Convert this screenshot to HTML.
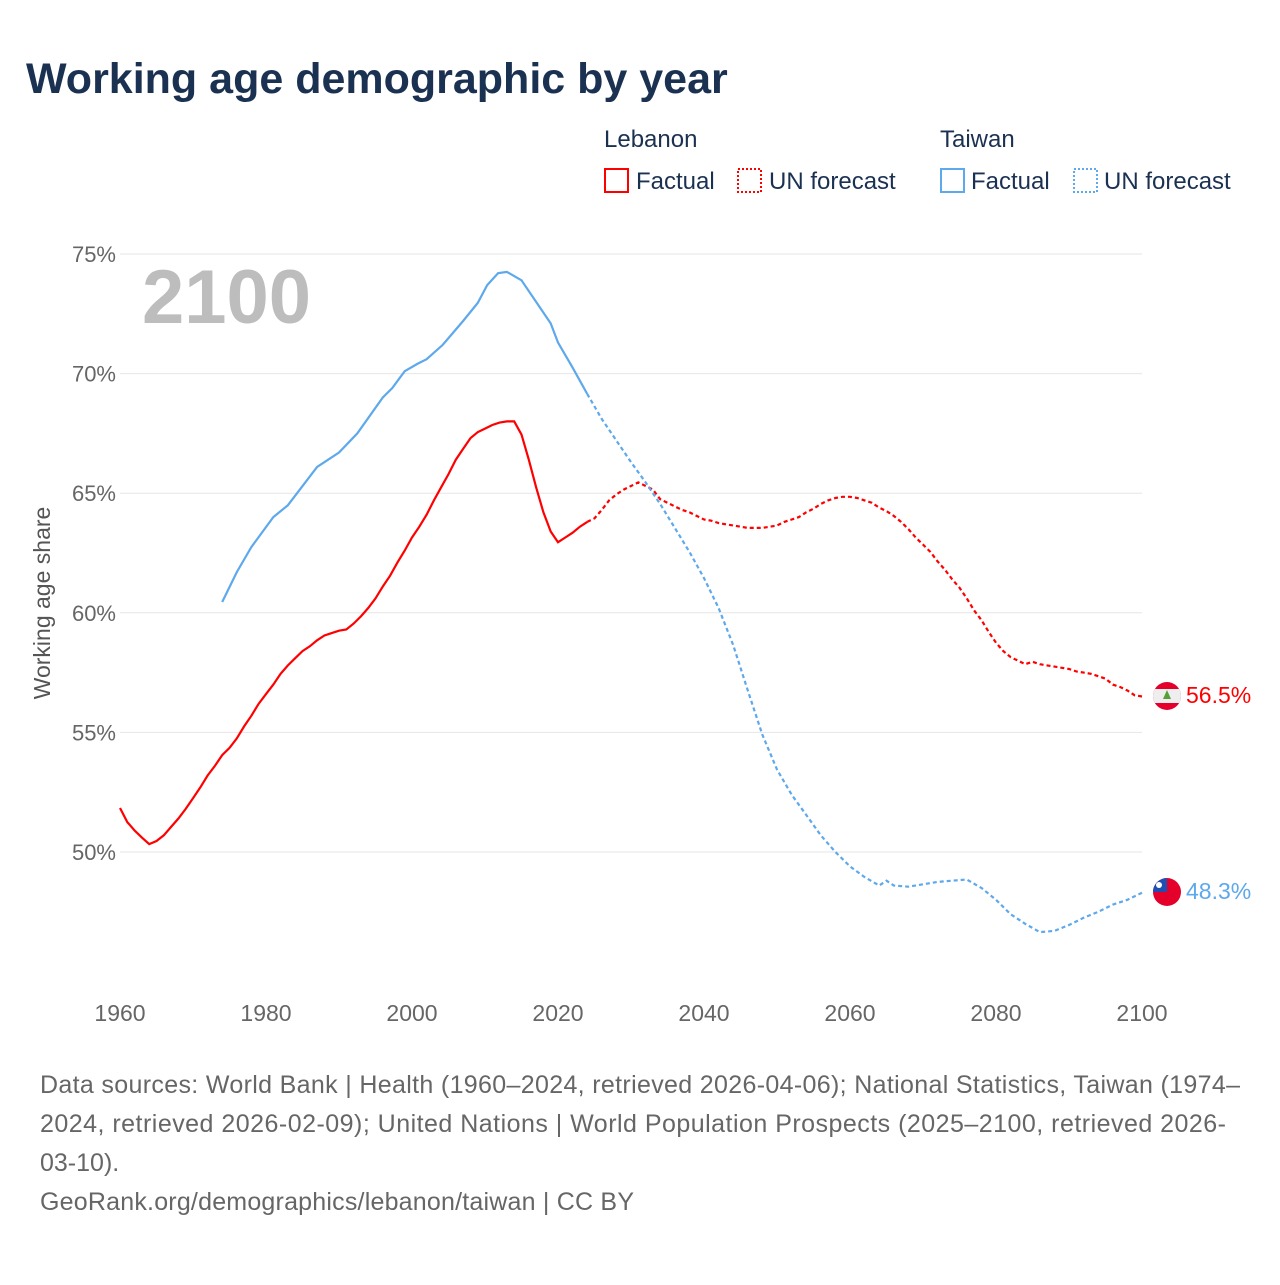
<!DOCTYPE html>
<html><head><meta charset="utf-8"><style>
body{margin:0;background:#fff;font-family:"Liberation Sans",sans-serif;}
svg text{font-family:"Liberation Sans",sans-serif;}
</style></head><body>
<svg id="chart" width="1280" height="1280" xmlns="http://www.w3.org/2000/svg">
<text x="26" y="93" font-size="43" font-weight="bold" fill="#1b3152">Working age demographic by year</text>
<g font-size="24" fill="#1b3152">
<text x="604" y="147" fill="#1b3152">Lebanon</text>
<text x="940" y="147" fill="#1b3152">Taiwan</text>
<g><rect x="605" y="169" width="23" height="23" fill="none" stroke="#f00" stroke-width="2"/><text x="636" y="189" fill="#1b3152">Factual</text></g>
<g><rect x="738" y="169" width="23" height="23" fill="none" stroke="#f00" stroke-width="2" stroke-dasharray="2,2"/><text x="769" y="189" fill="#1b3152">UN forecast</text></g>
<g><rect x="941" y="169" width="23" height="23" fill="none" stroke="#5ea8ec" stroke-width="2"/><text x="971" y="189" fill="#1b3152">Factual</text></g>
<g><rect x="1074" y="169" width="23" height="23" fill="none" stroke="#5ea8ec" stroke-width="2" stroke-dasharray="2,2"/><text x="1104" y="189" fill="#1b3152">UN forecast</text></g>
</g>
<text x="142" y="323" font-size="76" font-weight="bold" fill="#bdbdbd">2100</text>
<text transform="translate(50,603) rotate(-90)" text-anchor="middle" font-size="23" fill="#555">Working age share</text>
<g id="grid"></g><g id="series"></g>
<g>
<g><clipPath id="c1"><circle cx="1167" cy="696" r="14"/></clipPath><g clip-path="url(#c1)"><rect x="1150" y="680" width="34" height="34" fill="#e4002b"/><rect x="1150" y="689" width="34" height="14" fill="#eee"/><polygon points="1167,690 1163,699 1171,699" fill="#5a9e3a"/></g></g>
<text x="1186" y="703" font-size="23" fill="#f00">56.5%</text>
<g><clipPath id="c2"><circle cx="1167" cy="892" r="14"/></clipPath><g clip-path="url(#c2)"><rect x="1150" y="876" width="34" height="34" fill="#e4002b"/><rect x="1150" y="876" width="17" height="16" fill="#1f4fb0"/><circle cx="1159" cy="885" r="3" fill="#fff"/></g></g>
<text x="1186" y="899" font-size="23" fill="#5ea8ec">48.3%</text>
</g>
<g font-size="25" fill="#666">
<text x="40" y="1093" textLength="1200">Data sources: World Bank | Health (1960–2024, retrieved 2026-04-06); National Statistics, Taiwan (1974–</text>
<text x="40" y="1132" textLength="1186">2024, retrieved 2026-02-09); United Nations | World Population Prospects (2025–2100, retrieved 2026-</text>
<text x="40" y="1171">03-10).</text>
<text x="40" y="1210" textLength="594">GeoRank.org/demographics/lebanon/taiwan | CC BY</text>
</g>
</svg>
<script>
const xTicks=[1960,1980,2000,2020,2040,2060,2080,2100];
const yTicks=[50,55,60,65,70,75];
const lbFactYears=[];for(let y=1960;y<=2024;y++)lbFactYears.push(y);
const lbFact=[51.84,51.25,50.9,50.6,50.33,50.46,50.7,51.05,51.4,51.8,52.25,52.7,53.2,53.6,54.05,54.35,54.75,55.25,55.7,56.2,56.6,57.0,57.45,57.8,58.1,58.4,58.6,58.85,59.05,59.15,59.25,59.3,59.55,59.85,60.2,60.6,61.1,61.55,62.1,62.6,63.15,63.6,64.1,64.7,65.25,65.8,66.4,66.85,67.3,67.55,67.7,67.85,67.95,68.0,68.0,67.45,66.4,65.25,64.2,63.4,62.95,63.15,63.35,63.6,63.8];
const lbFcYears=[];for(let y=2024;y<=2100;y++)lbFcYears.push(y);
const lbFc=[63.8,63.95,64.3,64.7,64.95,65.15,65.3,65.45,65.3,65.15,64.75,64.6,64.45,64.3,64.2,64.05,63.9,63.85,63.75,63.7,63.65,63.6,63.55,63.55,63.55,63.6,63.65,63.8,63.9,64.0,64.2,64.35,64.55,64.7,64.8,64.85,64.85,64.8,64.7,64.6,64.4,64.25,64.05,63.8,63.5,63.15,62.85,62.55,62.15,61.8,61.4,61.05,60.6,60.1,59.7,59.2,58.75,58.4,58.15,58.0,57.85,57.95,57.85,57.8,57.75,57.7,57.65,57.55,57.5,57.45,57.35,57.25,57.0,56.9,56.75,56.55,56.5];
const twFactYears=[1974,1976,1978,1981,1983,1987,1990,1992.5,1996,1997.3,1999,2000.7,2002,2004.2,2007,2009,2010.3,2011.8,2013,2015,2019,2020,2022,2024];
const twFact=[60.45,61.7,62.75,64.0,64.5,66.1,66.7,67.5,69.0,69.4,70.1,70.4,70.6,71.2,72.2,72.95,73.7,74.2,74.25,73.9,72.1,71.3,70.25,69.15];
const twFcYears=[2024,2026,2028,2030,2032,2034,2036,2038,2040,2042,2044,2046,2048,2050,2052,2054,2056,2058,2060,2062,2064,2065,2066,2068,2070,2072,2074,2076,2078,2080,2082,2084,2086,2088,2090,2092,2094,2096,2098,2100];
const twFc=[69.15,68.1,67.2,66.3,65.45,64.55,63.55,62.55,61.45,60.2,58.65,56.75,54.9,53.45,52.4,51.55,50.7,50.0,49.4,48.95,48.6,48.8,48.6,48.55,48.65,48.75,48.8,48.85,48.5,48.0,47.4,47.0,46.65,46.7,46.95,47.25,47.5,47.8,48.0,48.3];
const X=y=>120+(y-1960)*1022/140;
const Y=v=>852-(v-50)*23.92;
const NS="http://www.w3.org/2000/svg";
const grid=document.getElementById('grid'),ser=document.getElementById('series');
yTicks.forEach(v=>{
 const l=document.createElementNS(NS,'line');
 l.setAttribute('x1',120);l.setAttribute('x2',1142);l.setAttribute('y1',Y(v));l.setAttribute('y2',Y(v));
 l.setAttribute('stroke','#e6e6e6');
 
 
 grid.appendChild(l);
 const t=document.createElementNS(NS,'text');
 t.setAttribute('x',116);t.setAttribute('y',Y(v)+8);t.setAttribute('text-anchor','end');
 t.setAttribute('font-size','22');t.setAttribute('fill','#666');t.textContent=v+'%';
 
 
 grid.appendChild(t);
});
xTicks.forEach(y=>{
 const t=document.createElementNS(NS,'text');
 t.setAttribute('x',X(y));t.setAttribute('y',1021);t.setAttribute('text-anchor','middle');
 t.setAttribute('font-size','23');t.setAttribute('fill','#666');t.textContent=y;
 
 
 grid.appendChild(t);
});
function line(ys,vs,color,dash,name){
 const p=document.createElementNS(NS,'path');
 p.setAttribute('d',ys.map((y,i)=>(i?'L':'M')+X(y).toFixed(1)+','+Y(vs[i]).toFixed(1)).join(''));
 p.setAttribute('fill','none');p.setAttribute('stroke',color);p.setAttribute('stroke-width','2.2');
 if(dash)p.setAttribute('stroke-dasharray','4,3');
 
 
 ser.appendChild(p);
}
line(lbFactYears,lbFact,'#f00',false,'lebanon-factual-line');
line(lbFcYears,lbFc,'#f00',true,'lebanon-forecast-line');
line(twFactYears,twFact,'#5ea8ec',false,'taiwan-factual-line');
line(twFcYears,twFc,'#5ea8ec',true,'taiwan-forecast-line');
</script>
</body></html>
